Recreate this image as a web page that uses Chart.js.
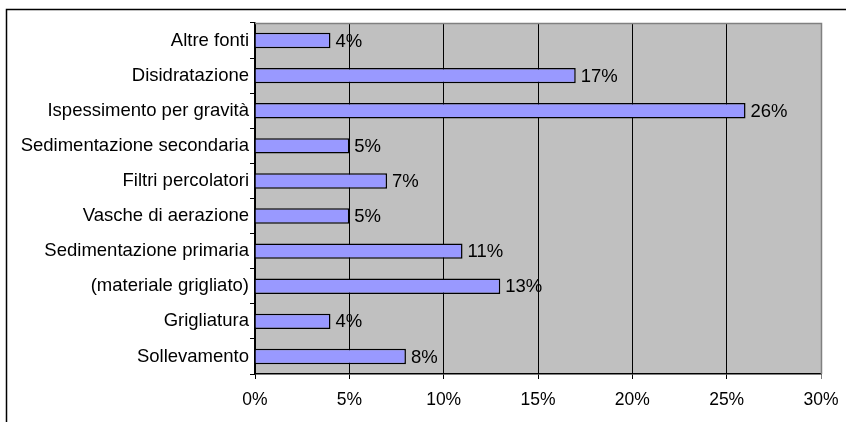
<!DOCTYPE html>
<html>
<head>
<meta charset="utf-8">
<script src="https://cdn.jsdelivr.net/npm/chart.js@4"></script>
<style>
  html, body { margin: 0; padding: 0; background: #fff; }
  #wrap { width: 846px; height: 422px; }
</style>
</head>
<body>
<div id="wrap"><canvas id="grafico" width="846" height="422"></canvas></div>
<script>
// --- Dati ---
const categorie = [
  'Altre fonti',
  'Disidratazione',
  'Ispessimento per gravità',
  'Sedimentazione secondaria',
  'Filtri percolatori',
  'Vasche di aerazione',
  'Sedimentazione primaria',
  '(materiale grigliato)',
  'Grigliatura',
  'Sollevamento'
];
const percentuali = [4, 17, 26, 5, 7, 5, 11, 13, 4, 8];
const tickX = [0, 5, 10, 15, 20, 25, 30];

const FONT = 'Arial, "Liberation Sans", sans-serif';

// cornice esterna + sfondo grigio dell'area del grafico
const sfondo = {
  id: 'sfondo',
  beforeDraw(chart) {
    const { ctx, chartArea: a } = chart;
    ctx.save();
    ctx.fillStyle = '#c0c0c0';
    ctx.fillRect(a.left, a.top, a.right - a.left, a.bottom - a.top);
    ctx.strokeStyle = '#000';
    ctx.lineWidth = 1.5;
    ctx.beginPath();
    ctx.moveTo(6.5, 422);
    ctx.lineTo(6.5, 9.5);
    ctx.lineTo(846, 9.5);
    ctx.stroke();
    ctx.restore();
  },
  afterDraw(chart) {
    const { ctx, chartArea: a } = chart;
    ctx.save();
    ctx.strokeStyle = '#808080';
    ctx.lineWidth = 1.5;
    ctx.beginPath();
    ctx.moveTo(a.left, a.top + 0.5);
    ctx.lineTo(a.right + 0.5, a.top + 0.5);
    ctx.lineTo(a.right + 0.5, a.bottom);
    ctx.stroke();
    ctx.restore();
  }
};

// etichette "x%" a destra delle barre
const etichette = {
  id: 'etichette',
  afterDatasetsDraw(chart) {
    const { ctx } = chart;
    const meta = chart.getDatasetMeta(0);
    ctx.save();
    ctx.fillStyle = '#000';
    ctx.font = '18.5px ' + FONT;
    ctx.textAlign = 'left';
    ctx.textBaseline = 'middle';
    meta.data.forEach((bar, i) => {
      ctx.fillText(percentuali[i] + '%', bar.x + 5, bar.y + 1);
    });
    ctx.restore();
  }
};

new Chart(document.getElementById('grafico'), {
  type: 'bar',
  data: {
    labels: categorie,
    datasets: [{
      data: percentuali,
      backgroundColor: '#9999ff',
      borderColor: '#000',
      borderWidth: 1.5,
      barPercentage: 0.44,
      categoryPercentage: 1
    }]
  },
  options: {
    indexAxis: 'y',
    responsive: false,
    animation: false,
    events: [],
    layout: { padding: { top: 23, right: 25, left: 0, bottom: 0 } },
    plugins: { legend: { display: false }, tooltip: { enabled: false } },
    scales: {
      x: {
        min: 0,
        max: 30,
        afterBuildTicks: (s) => { s.ticks = tickX.map(v => ({ value: v })); },
        afterFit: (s) => {
          s.height = 48;
          s.paddingLeft = 0;
          s.paddingRight = 0;
        },
        ticks: {
          color: '#000',
          font: { family: FONT, size: 17.5 },
          padding: 11,
          maxRotation: 0,
          callback: (v) => v + '%'
        },
        grid: {
          color: (c) => c.tick && c.tick.value === 30 ? '#808080' : '#000',
          lineWidth: 1,
          tickLength: 5
        },
        border: { color: '#000', width: 1.5 }
      },
      y: {
        afterFit: (s) => { s.width = 255; },
        ticks: {
          color: '#000',
          font: { family: FONT, size: 18.5 },
          padding: 1
        },
        grid: {
          offset: true,
          drawOnChartArea: false,
          color: '#000',
          tickLength: 5
        },
        border: { color: '#000', width: 1.5 }
      }
    }
  },
  plugins: [sfondo, etichette]
});
</script>
</body>
</html>
